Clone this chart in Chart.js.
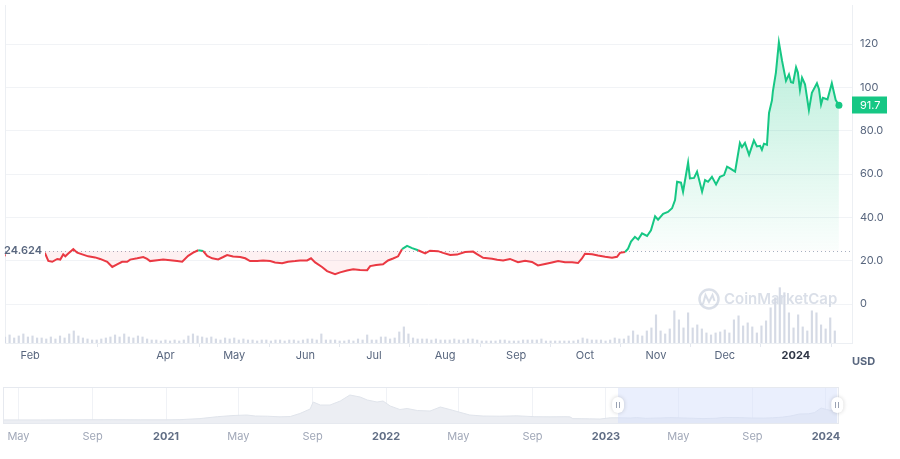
<!DOCTYPE html>
<html>
<head>
<meta charset="utf-8">
<script src="https://cdn.jsdelivr.net/npm/chart.js@4.4.1/dist/chart.umd.min.js"></script>
<style>
  html, body { margin: 0; padding: 0; background: #fff; }
  #wrap { position: relative; width: 900px; height: 459px; overflow: hidden; }
  #main { position: absolute; left: 0; top: 0; }
  #nav { position: absolute; left: 0; top: 375px; }
</style>
</head>
<body>
<div id="wrap">
  <canvas id="main" width="900" height="375"></canvas>
  <canvas id="nav" width="900" height="84"></canvas>
</div>
<script>
// days are counted from 1 Feb 2023
const tickDays = [0, 59, 89, 120, 150, 181, 212, 242, 273, 303, 334];
const tickLabels = ['Feb', 'Apr', 'May', 'Jun', 'Jul', 'Aug', 'Sep', 'Oct', 'Nov', 'Dec', '2024'];
const yearTicks = ['2021', '2022', '2023', '2024'];

const priceTickValues = [0, 20, 40, 60, 80, 100, 120];
const priceTickLabels = ['0', '20.0', '40.0', '60.0', '80.0', '100', '120'];

const baseline = 24.624;
const lastPrice = 91.7;

const priceDays = [
  -10.9, -7.9, -4.4, -0.9, 2.6, 6.5, 7.9, 9.6, 11.8, 13.1,
  14.4, 15.3, 16.6, 18.8, 20.5, 22.7, 25.3, 28.3, 30.5, 33.6,
  35.8, 37.9, 40.1, 42.3, 43.6, 46.7, 49.3, 51.0, 52.3, 55.4,
  58.0, 61.1, 64.1, 66.3, 68.9, 71.1, 73.3, 75.4, 77.2, 79.4,
  82.0, 84.2, 85.9, 88.5, 91.6, 93.8, 95.9, 99.0, 101.6, 104.7,
  106.8, 109.9, 112.5, 115.6, 117.7, 120.8, 122.5, 124.3, 127.3, 129.5,
  133.0, 135.2, 138.2, 140.9, 143.9, 147.0, 148.3, 150.9, 153.9, 156.1,
  158.3, 160.5, 162.2, 164.4, 166.6, 169.2, 172.3, 174.4, 177.9, 180.1,
  183.2, 186.2, 189.7, 193.2, 194.9, 197.6, 201.5, 203.7, 206.3, 209.3,
  212.8, 215.9, 218.9, 221.5, 224.6, 227.6, 230.3, 233.3, 236.4, 239.0,
  240.7, 242.0, 245.1, 247.7, 250.8, 253.8, 256.0, 257.3, 259.5, 260.8,
  262.1, 263.8, 265.2, 266.9, 269.1, 270.8, 272.6, 273.9, 276.1, 278.2,
  280.0, 281.3, 282.2, 283.9, 284.8, 287.0, 287.8, 289.6, 290.9, 293.1,
  294.4, 295.7, 297.4, 299.2, 300.9, 302.7, 304.0, 305.3, 307.5, 309.6,
  310.5, 311.8, 313.6, 315.7, 317.0, 318.4, 319.2, 320.1, 321.4, 322.3,
  323.6, 324.0, 325.3, 326.6, 328.0, 329.7, 331.0, 331.9, 332.8, 334.1,
  334.9, 335.8, 336.7, 338.0, 339.7, 341.0, 343.2, 344.1, 345.0, 345.8,
  347.8, 349.7, 351.4, 352.8
];
const priceValues = [
  22.4, 23.2, 22.6, 23.6, 24.0, 23.3, 19.9, 19.5, 20.8, 20.5,
  22.9, 22.0, 23.3, 25.3, 23.7, 22.9, 22.0, 21.5, 20.8, 19.5,
  17.1, 18.3, 19.5, 19.5, 20.5, 21.1, 21.7, 20.8, 19.8, 20.2,
  20.5, 20.2, 19.8, 19.5, 22.2, 23.7, 24.8, 24.5, 22.2, 21.1,
  20.6, 21.7, 22.6, 21.9, 21.7, 21.1, 19.8, 19.8, 20.1, 19.8,
  19.2, 18.8, 19.5, 19.8, 20.1, 20.1, 21.1, 19.2, 17.1, 15.2,
  13.8, 14.6, 15.5, 16.0, 15.7, 15.6, 17.5, 18.0, 18.3, 20.1,
  21.0, 22.0, 25.3, 26.8, 25.8, 24.8, 23.4, 24.6, 24.4, 23.6,
  22.6, 22.8, 24.0, 24.2, 23.0, 21.3, 20.9, 20.4, 20.1, 20.8,
  19.3, 20.0, 19.4, 17.8, 18.5, 19.2, 19.8, 19.3, 19.3, 18.9,
  21.0, 23.2, 23.0, 22.4, 21.8, 21.3, 21.8, 23.6, 24.0, 25.5,
  28.8, 31.0, 29.8, 32.6, 31.4, 34.0, 40.5, 38.9, 41.6, 42.5,
  44.2, 48.0, 56.4, 56.0, 51.8, 65.3, 58.0, 58.2, 61.1, 51.8,
  57.2, 56.4, 58.7, 55.2, 58.7, 59.5, 63.4, 62.6, 61.1, 74.3,
  72.4, 74.3, 68.8, 75.5, 72.7, 73.0, 71.2, 74.0, 73.5, 88.2,
  94.1, 98.3, 106.8, 120.8, 112.2, 103.0, 106.0, 102.4, 102.1, 109.2,
  106.8, 98.8, 104.5, 101.4, 89.5, 97.5, 101.9, 99.1, 92.1, 95.2,
  94.4, 101.9, 94.1, 91.7
];

// daily volume (billion USD), one bar every 2 days from day -11
const volumeStartDay = -11;
const volumeStep = 2;
const volumeValues = [
  0.42, 0.56, 0.35, 0.49, 0.63, 0.42, 0.49, 0.35, 0.35, 0.28,
  0.42, 0.28, 0.49, 0.35, 0.63, 0.84, 0.49, 0.35, 0.28, 0.21,
  0.21, 0.28, 0.35, 0.42, 0.56, 0.42, 0.63, 0.42, 0.35, 0.49,
  0.42, 0.28, 0.21, 0.21, 0.14, 0.21, 0.14, 0.21, 0.14, 0.21,
  0.49, 0.63, 0.49, 0.42, 0.35, 0.42, 0.28, 0.21, 0.35, 0.28,
  0.35, 0.21, 0.28, 0.21, 0.21, 0.14, 0.21, 0.21, 0.14, 0.21,
  0.21, 0.14, 0.21, 0.21, 0.14,
  0.21, 0.28, 0.28, 0.21, 0.63, 0.21, 0.21, 0.21, 0.14, 0.14,
  0.21, 0.14, 0.28, 0.21, 0.56, 0.21, 0.21, 0.42, 0.42, 0.28,
  0.35, 0.77, 1.12, 0.63, 0.35, 0.28, 0.28, 0.28, 0.21, 0.28,
  0.21, 0.21, 0.21, 0.28, 0.21, 0.21, 0.28, 0.28, 0.21, 0.14,
  0.14, 0.14, 0.14, 0.21, 0.21, 0.14, 0.14, 0.14, 0.21, 0.21,
  0.21, 0.21, 0.28, 0.14, 0.14, 0.14, 0.14, 0.14, 0.14, 0.14,
  0.21, 0.35, 0.28, 0.21, 0.21, 0.21, 0.14, 0.21, 0.35, 0.28,
  0.28,
  0.49, 0.84, 0.56, 0.49, 0.84, 1.05, 1.96, 0.84, 0.63, 0.98,
  2.24, 1.61, 1.05, 2.10, 1.05, 1.26, 0.98, 0.70, 0.56, 0.70,
  0.77, 0.91, 0.70, 1.61, 1.89, 1.19, 1.40, 1.12, 0.70, 1.19,
  1.54, 2.45, 3.15, 3.85, 3.50, 2.10, 1.05, 1.96, 1.12, 0.84,
  2.24, 2.10, 1.26, 0.98, 1.75, 0.84
];

// navigator: longer price history (days from 1 Feb 2023)
const navTickDays = [-1006, -883, -761, -641, -518, -396, -276, -153, -31, 89, 212, 334];
const navTickLabels = ['May', 'Sep', '2021', 'May', 'Sep', '2022', 'May', 'Sep', '2023', 'May', 'Sep', '2024'];
const navDays = [
  -1030, -970, -904, -854, -804, -761, -738, -705, -676, -650,
  -627, -613, -593, -572, -555, -539, -522, -517, -505, -489,
  -472, -456, -439, -427, -411, -401, -389, -373, -361, -344,
  -323, -306, -290, -278, -257, -235, -207, -179, -149, -124,
  -99, -91, -86, -58, -41, -24, -11, 10, 20, 35,
  60, 75, 100, 130, 150, 165, 190, 210, 230, 245,
  262, 275, 290, 305, 315, 326, 335, 341, 350, 353
];
const navValues = [
  0.8, 0.7, 2.5, 3, 2, 1.8, 3.5, 14, 33, 45,
  50, 40, 38, 32, 35, 65, 110, 180, 150, 150,
  190, 250, 230, 200, 180, 190, 140, 105, 115, 95,
  90, 130, 105, 85, 50, 40, 38, 42, 33, 32,
  33, 32, 14, 12, 10, 22, 22.4, 20, 24, 17,
  20.5, 24, 20, 14.5, 17, 26, 24, 20, 19, 22,
  29, 40, 60, 62, 74, 120, 105, 97, 101, 92
];
const selStart = -11;
const selEnd = 352.8;

const GREEN = '#16c784';
const RED = '#ea3943';
const FONT = 'Inter, "Noto Sans", sans-serif';

function isYear(c, days, labels) {
  if (!c || !c.tick) return false;
  return yearTicks.includes(labels[days.indexOf(c.tick.value)]);
}

const mainCanvas = document.getElementById('main');
const ctxMain = mainCanvas.getContext('2d');
const greenFill = ctxMain.createLinearGradient(0, 40, 0, 250);
greenFill.addColorStop(0, 'rgba(22,199,132,0.30)');
greenFill.addColorStop(1, 'rgba(22,199,132,0.02)');

const priceData = priceDays.map((d, i) => ({ x: d, y: priceValues[i] }));
const volumeData = volumeValues.map((v, i) => ({ x: volumeStartDay + i * volumeStep, y: v }));

const mainDecor = {
  id: 'mainDecor',
  beforeDatasetsDraw(chart) {
    const { ctx, chartArea: a, scales } = chart;
    ctx.save();
    // left border
    ctx.strokeStyle = '#eceff3';
    ctx.lineWidth = 1;
    ctx.beginPath();
    ctx.moveTo(a.left + 0.5, a.top);
    ctx.lineTo(a.left + 0.5, a.bottom);
    ctx.stroke();

    // watermark
    ctx.strokeStyle = 'rgba(150,162,190,0.35)';
    ctx.fillStyle = 'rgba(150,162,190,0.35)';
    ctx.lineWidth = 2.5;
    ctx.beginPath();
    ctx.arc(709, 299, 9.5, 0, Math.PI * 2);
    ctx.stroke();
    ctx.lineWidth = 2;
    ctx.beginPath();
    ctx.moveTo(703, 304);
    ctx.lineTo(705.5, 295);
    ctx.lineTo(709, 302);
    ctx.lineTo(712.5, 295);
    ctx.lineTo(714.5, 301);
    ctx.stroke();
    ctx.font = '600 15px ' + FONT;
    ctx.textAlign = 'left';
    ctx.textBaseline = 'middle';
    ctx.fillText('CoinMarketCap', 724, 299);

    // dotted baseline
    const yb = Math.round(scales.y.getPixelForValue(baseline)) + 0.5;
    ctx.strokeStyle = '#a7afc0';
    ctx.lineWidth = 1;
    ctx.setLineDash([1, 3]);
    ctx.beginPath();
    ctx.moveTo(a.left, yb);
    ctx.lineTo(a.right, yb);
    ctx.stroke();
    ctx.restore();
  },
  afterDatasetsDraw(chart) {
    const { ctx, chartArea: a, scales } = chart;
    const yb = scales.y.getPixelForValue(baseline);
    ctx.save();
    ctx.fillStyle = '#ffffff';
    ctx.fillRect(a.left + 1, yb - 8, 39, 16);
    ctx.font = '600 11px ' + FONT;
    ctx.fillStyle = '#58667e';
    ctx.textAlign = 'right';
    ctx.textBaseline = 'middle';
    ctx.fillText(baseline.toFixed(3), 42, yb);
    ctx.restore();
  },
  afterDraw(chart) {
    const { ctx, chartArea: a, scales } = chart;
    const yp = scales.y.getPixelForValue(lastPrice);
    ctx.save();
    ctx.fillStyle = GREEN;
    ctx.fillRect(a.right, Math.round(yp) - 8.5, 35, 17);
    ctx.font = '11px ' + FONT;
    ctx.fillStyle = '#ffffff';
    ctx.textAlign = 'left';
    ctx.textBaseline = 'middle';
    ctx.fillText(lastPrice.toFixed(1), a.right + 8, yp);
    ctx.font = 'bold 11px ' + FONT;
    ctx.fillStyle = '#58667e';
    ctx.fillText('USD', 852, 362);
    ctx.restore();
  }
};

new Chart(ctxMain, {
  type: 'line',
  data: {
    datasets: [
      {
        type: 'line',
        label: 'Price',
        data: priceData,
        yAxisID: 'y',
        order: 0,
        borderColor: RED,
        borderWidth: 2,
        tension: 0,
        pointRadius: c => (c.dataIndex === priceData.length - 1 ? 3.5 : 0),
        pointBackgroundColor: GREEN,
        pointBorderWidth: 0,
        pointHoverRadius: 0,
        fill: { target: { value: baseline }, above: greenFill, below: 'rgba(234,57,67,0.07)' },
        segment: {
          borderColor: s => ((s.p0.parsed.y + s.p1.parsed.y) / 2 >= baseline ? GREEN : RED)
        }
      },
      {
        type: 'bar',
        label: 'Volume',
        data: volumeData,
        yAxisID: 'yVol',
        order: 1,
        backgroundColor: '#d5dae5',
        barThickness: 1.5
      }
    ]
  },
  options: {
    responsive: false,
    animation: false,
    layout: { padding: { left: 5, top: 5, right: 0, bottom: 0 } },
    plugins: { legend: { display: false }, tooltip: { enabled: false } },
    scales: {
      x: {
        type: 'linear',
        min: -11,
        max: 358.5,
        offset: false,
        afterBuildTicks: s => { s.ticks = tickDays.map(v => ({ value: v })); },
        afterFit: s => { s.height = 32; s.paddingLeft = 0; s.paddingRight = 0; },
        ticks: {
          autoSkip: false,
          maxRotation: 0,
          padding: 2,
          color: c => (isYear(c, tickDays, tickLabels) ? '#2f3646' : '#58667e'),
          font: c => ({
            family: FONT,
            size: 11,
            weight: isYear(c, tickDays, tickLabels) ? 'bold' : 'normal'
          }),
          callback: v => tickLabels[tickDays.indexOf(v)]
        },
        grid: { drawOnChartArea: false, drawTicks: true, tickLength: 4, color: '#e3e7ee' },
        border: { display: true, color: '#eceff3' }
      },
      y: {
        position: 'right',
        min: -18,
        max: 138,
        afterBuildTicks: s => { s.ticks = priceTickValues.map(v => ({ value: v })); },
        afterFit: s => { s.width = 48; s.paddingTop = 0; s.paddingBottom = 0; },
        ticks: {
          padding: 8,
          color: '#58667e',
          font: { family: FONT, size: 11 },
          callback: v => priceTickLabels[priceTickValues.indexOf(v)]
        },
        grid: { color: '#f1f3f6', drawTicks: false },
        border: { display: true, color: '#eceff3' }
      },
      yVol: { display: false, min: 0, max: 23.52 }
    }
  },
  plugins: [mainDecor]
});

// navigator
const navData = navDays.map((d, i) => ({ x: d, y: navValues[i] }));

const navDecor = {
  id: 'navDecor',
  afterDatasetsDraw(chart) {
    const { ctx, chartArea: a, scales } = chart;
    const x0 = scales.x.getPixelForValue(selStart);
    const x1 = scales.x.getPixelForValue(selEnd);
    const mid = (a.top + a.bottom) / 2;
    ctx.save();
    ctx.fillStyle = 'rgba(214,224,251,0.5)';
    ctx.fillRect(x0, a.top, x1 - x0, a.bottom - a.top);
    ctx.strokeStyle = '#e6e9ef';
    ctx.lineWidth = 1;
    ctx.strokeRect(a.left - 0.5, a.top + 0.5, a.right - a.left + 1, a.bottom - a.top);
    [x0, x1].forEach(x => {
      ctx.save();
      ctx.shadowColor = 'rgba(0,0,0,0.18)';
      ctx.shadowBlur = 4;
      ctx.fillStyle = '#ffffff';
      ctx.beginPath();
      ctx.roundRect(x - 6, mid - 8, 12, 16, 6);
      ctx.fill();
      ctx.restore();
      ctx.strokeStyle = '#9aa2b3';
      ctx.beginPath();
      ctx.moveTo(Math.round(x) - 1.5, mid - 3);
      ctx.lineTo(Math.round(x) - 1.5, mid + 3);
      ctx.moveTo(Math.round(x) + 1.5, mid - 3);
      ctx.lineTo(Math.round(x) + 1.5, mid + 3);
      ctx.stroke();
    });
    ctx.restore();
  }
};

new Chart(document.getElementById('nav'), {
  type: 'line',
  data: {
    datasets: [{
      data: navData,
      borderColor: '#e0e4eb',
      borderWidth: 1,
      backgroundColor: '#eceef3',
      fill: 'start',
      pointRadius: 0,
      tension: 0
    }]
  },
  options: {
    responsive: false,
    animation: false,
    layout: { padding: { left: 4, right: 62, top: 12, bottom: 0 } },
    plugins: { legend: { display: false }, tooltip: { enabled: false } },
    scales: {
      x: {
        type: 'linear',
        min: -1030,
        max: 354,
        afterBuildTicks: s => { s.ticks = navTickDays.map(v => ({ value: v })); },
        afterFit: s => { s.height = 36; s.paddingLeft = 0; s.paddingRight = 0; },
        ticks: {
          autoSkip: false,
          maxRotation: 0,
          padding: 7,
          color: c => (isYear(c, navTickDays, navTickLabels) ? '#616e85' : '#a1a8b8'),
          font: c => ({
            family: FONT,
            size: 11,
            weight: isYear(c, navTickDays, navTickLabels) ? 'bold' : 'normal'
          }),
          callback: v => navTickLabels[navTickDays.indexOf(v)]
        },
        grid: { color: '#f0f2f6', drawTicks: false },
        border: { display: false }
      },
      y: { display: false, min: -30, max: 330 }
    }
  },
  plugins: [navDecor]
});
</script>
</body>
</html>
